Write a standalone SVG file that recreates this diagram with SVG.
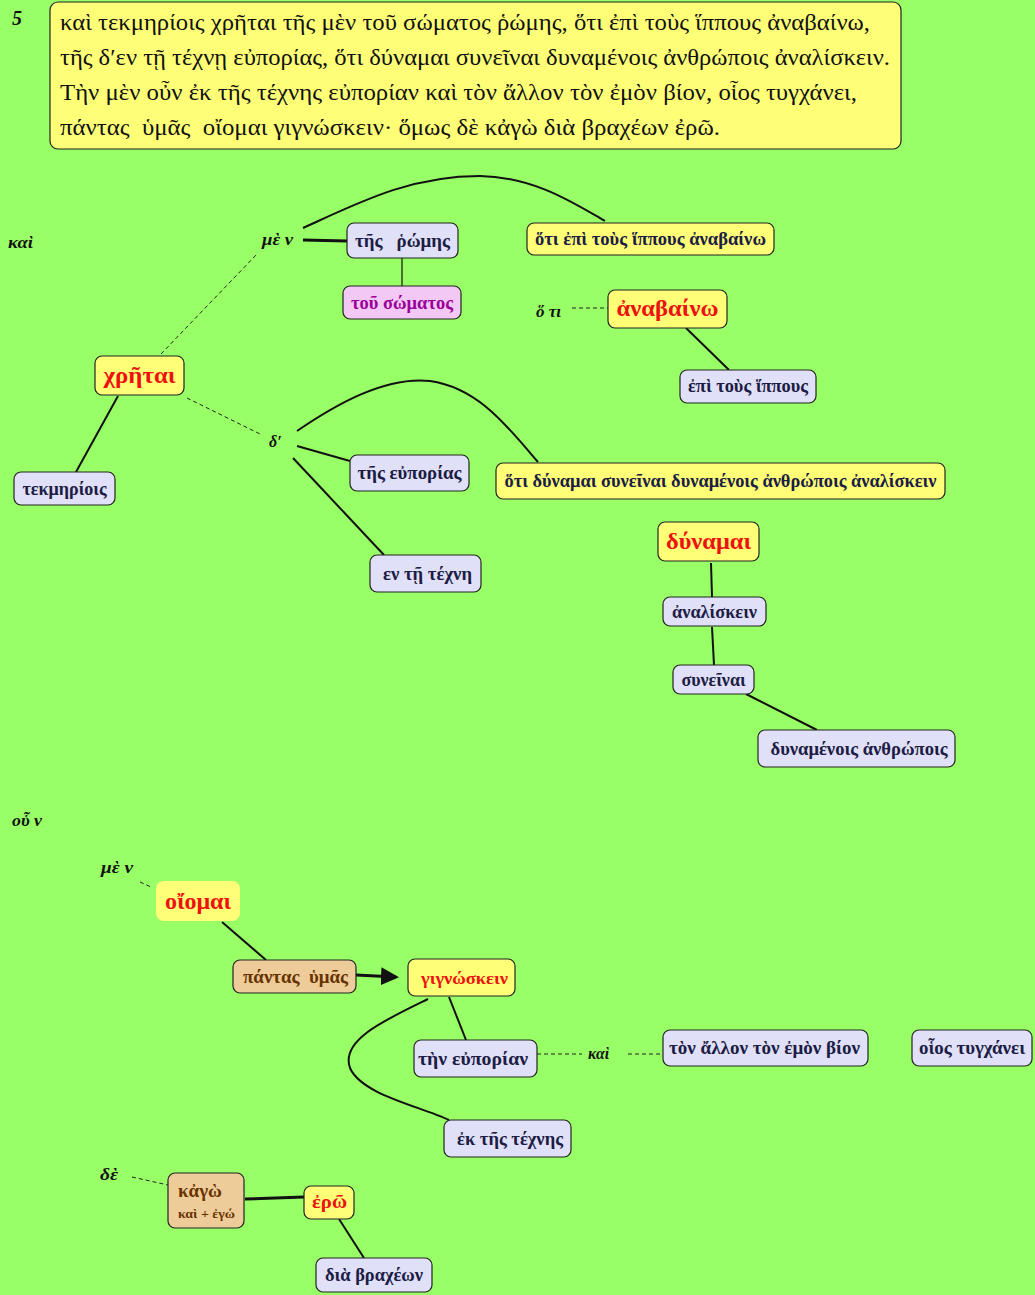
<svg xmlns="http://www.w3.org/2000/svg" width="1035" height="1295" viewBox="0 0 1035 1295">
<defs>
<style>
.bg{fill:#99ff66}
.box{stroke:#222;stroke-width:1.2}
.y{fill:#ffff77}
.l{fill:#e0e0f8}
.p{fill:#f4c8f4}
.t{fill:#eecc99}
.tx{font-family:"Liberation Serif","DejaVu Serif",serif;font-weight:bold;font-size:18px;fill:#1c1c44;text-anchor:middle}
.red{fill:#ee1111;font-size:24px}
.pur{fill:#990099}
.brn{fill:#663300}
.it{font-family:"Liberation Serif","DejaVu Serif",serif;font-weight:bold;font-style:italic;font-size:16px;fill:#111}
.para{font-family:"Liberation Serif","DejaVu Serif",serif;font-size:23px;fill:#111}
.pre{white-space:pre}
.ln{fill:none;stroke:#111;stroke-width:2}
.th{fill:none;stroke:#111;stroke-width:3}
.ds{fill:none;stroke:#222;stroke-width:1;stroke-dasharray:4 3}
</style>
<marker id="ar" markerWidth="6" markerHeight="6" refX="5" refY="3" orient="auto" markerUnits="strokeWidth">
<path d="M0,0 L6,3 L0,6 z" fill="#111"/>
</marker>
</defs>
<rect class="bg" x="0" y="0" width="1035" height="1295"/>

<g id="header">
<text x="12" y="25" style="font-family:'Liberation Serif',serif;font-weight:bold;font-style:italic;font-size:20px;fill:#111">5</text>
<rect x="50" y="2" width="851" height="147" rx="8" fill="#ffff77" stroke="#222" stroke-width="1.2"/>
<text class="para" x="60" y="30" textLength="810" lengthAdjust="spacingAndGlyphs">καὶ τεκμηρίοις χρῆται τῆς μὲν τοῦ σώματος ῥώμης, ὅτι ἐπὶ τοὺς ἵππους ἀναβαίνω,</text>
<text class="para" x="60" y="65" textLength="830" lengthAdjust="spacingAndGlyphs">τῆς δ′εν τῇ τέχνῃ εὐπορίας, ὅτι δύναμαι συνεῖναι δυναμένοις ἀνθρώποις ἀναλίσκειν.</text>
<text class="para" x="60" y="100" textLength="797" lengthAdjust="spacingAndGlyphs">Τὴν μὲν οὖν ἐκ τῆς τέχνης εὐπορίαν καὶ τὸν ἄλλον τὸν ἐμὸν βίον, οἷος τυγχάνει,</text>
<text class="para pre" xml:space="preserve" x="60" y="135" textLength="660" lengthAdjust="spacingAndGlyphs">πάντας  ὑμᾶς  οἴομαι γιγνώσκειν· ὅμως δὲ κἀγὼ διὰ βραχέων ἐρῶ.</text>
</g>

<g id="connectors">
<path class="ln" d="M303,228 C360,202 410,176 480,176 C535,177 575,204 605,221"/>
<path class="th" d="M303,240 L347,241"/>
<path class="ln" style="stroke-width:1.2" d="M402,258 L402,286"/>
<path class="ds" d="M161,354 L257,254"/>
<path class="ds" d="M187,398 L260,434"/>
<path class="ln" d="M118,396 L76,472"/>
<path class="ln" d="M297,431 C335,405 385,376 430,381 C480,388 510,430 538,462"/>
<path class="ln" d="M297,446 L350,461"/>
<path class="ln" d="M293,458 L384,555"/>
<path class="ds" d="M572,308 L608,308"/>
<path class="ln" d="M686,328 L729,370"/>
<path class="ln" d="M711,563 L712,597"/>
<path class="ln" d="M712,627 L714,665"/>
<path class="ln" d="M746,694 L817,730"/>
<path class="ds" d="M140,882 L151,887"/>
<path class="ln" d="M222,922 L266,960"/>
<path class="th" d="M356,975 L396,977" marker-end="url(#ar)"/>
<path class="ln" d="M449,997 L466,1040"/>
<path class="ln" d="M428,999 C385,1020 340,1040 350,1068 C362,1095 420,1106 449,1120"/>
<path class="ds" d="M537,1054 L582,1054"/>
<path class="ds" d="M628,1054 L663,1054"/>
<path class="ds" d="M132,1177 L168,1185"/>
<path class="th" d="M245,1199 L304,1197"/>
<path class="ln" d="M339,1219 L364,1258"/>
</g>

<g id="n-kai1"><text class="it" x="8" y="248" textLength="25" lengthAdjust="spacingAndGlyphs">καὶ</text></g>
<g id="n-men1"><text class="it" x="262" y="245" textLength="31" lengthAdjust="spacingAndGlyphs">μὲ ν</text></g>
<g id="n-rhomes"><rect class="box l" x="347" y="223" width="111" height="35" rx="7"/><text class="tx pre" xml:space="preserve" x="402.5" y="247" textLength="95" lengthAdjust="spacingAndGlyphs">τῆς   ῥώμης</text></g>
<g id="n-somatos"><rect class="box p" x="343" y="286" width="118" height="33" rx="7"/><text class="tx pur" x="402" y="309" textLength="102" lengthAdjust="spacingAndGlyphs">τοῦ σώματος</text></g>
<g id="n-hoti1"><rect class="box y" x="527" y="223" width="247" height="32" rx="7"/><text class="tx" x="650.5" y="245" textLength="231" lengthAdjust="spacingAndGlyphs">ὅτι ἐπὶ τοὺς ἵππους ἀναβαίνω</text></g>
<g id="n-hoti2"><text class="it" x="536" y="317" textLength="25" lengthAdjust="spacingAndGlyphs">ὅ τι</text></g>
<g id="n-anabaino"><rect class="box y" x="608" y="290" width="119" height="38" rx="7"/><text class="tx red" x="667.5" y="316" textLength="102" lengthAdjust="spacingAndGlyphs">ἀναβαίνω</text></g>
<g id="n-hippous"><rect class="box l" x="680" y="370" width="136" height="33" rx="7"/><text class="tx" x="748" y="392" textLength="120" lengthAdjust="spacingAndGlyphs">ἐπὶ τοὺς ἵππους</text></g>
<g id="n-chretai"><rect class="box y" x="95" y="356" width="89" height="39" rx="7"/><text class="tx red" x="139.5" y="383" textLength="72" lengthAdjust="spacingAndGlyphs">χρῆται</text></g>
<g id="n-tekmeriois"><rect class="box l" x="14" y="472" width="101" height="33" rx="7"/><text class="tx" x="64.5" y="495" textLength="84" lengthAdjust="spacingAndGlyphs">τεκμηρίοις</text></g>
<g id="n-de1"><text class="it" x="269" y="447">δ′</text></g>
<g id="n-euporias"><rect class="box l" x="350" y="455" width="119" height="36" rx="7"/><text class="tx" x="409.5" y="479" textLength="104" lengthAdjust="spacingAndGlyphs">τῆς εὐπορίας</text></g>
<g id="n-hoti3"><rect class="box y" x="496" y="463" width="449" height="36" rx="7"/><text class="tx" x="720.5" y="487" textLength="432" lengthAdjust="spacingAndGlyphs">ὅτι δύναμαι συνεῖναι δυναμένοις ἀνθρώποις ἀναλίσκειν</text></g>
<g id="n-techne"><rect class="box l" x="370" y="555" width="111" height="37" rx="7"/><text class="tx" x="427.5" y="580" textLength="89" lengthAdjust="spacingAndGlyphs">εν τῇ τέχνη</text></g>
<g id="n-dynamai"><rect class="box y" x="658" y="522" width="101" height="39" rx="7"/><text class="tx red" x="708.5" y="549" textLength="85" lengthAdjust="spacingAndGlyphs">δύναμαι</text></g>
<g id="n-analiskein"><rect class="box l" x="663" y="597" width="103" height="29" rx="7"/><text class="tx" x="714.5" y="618" textLength="85" lengthAdjust="spacingAndGlyphs">ἀναλίσκειν</text></g>
<g id="n-syneinai"><rect class="box l" x="673" y="665" width="81" height="29" rx="7"/><text class="tx" x="713.5" y="686" textLength="64" lengthAdjust="spacingAndGlyphs">συνεῖναι</text></g>
<g id="n-anthropois"><rect class="box l" x="758" y="730" width="197" height="37" rx="7"/><text class="tx" x="859" y="755" textLength="177" lengthAdjust="spacingAndGlyphs">δυναμένοις ἀνθρώποις</text></g>

<g id="n-oun"><text class="it" x="12" y="826" textLength="30" lengthAdjust="spacingAndGlyphs">οὗ ν</text></g>
<g id="n-men2"><text class="it" x="101" y="873" textLength="32" lengthAdjust="spacingAndGlyphs">μὲ ν</text></g>
<g id="n-oiomai"><rect x="156" y="881" width="84" height="40" rx="8" fill="#ffff77"/><text class="tx red" x="198" y="909" textLength="66" lengthAdjust="spacingAndGlyphs">οἴομαι</text></g>
<g id="n-pantas"><rect class="box t" x="233" y="960" width="123" height="33" rx="7"/><text class="tx brn pre" xml:space="preserve" x="295.5" y="983" textLength="105" lengthAdjust="spacingAndGlyphs">πάντας  ὑμᾶς</text></g>
<g id="n-gignoskein"><rect class="box y" x="408" y="959" width="107" height="37" rx="7"/><text class="tx" style="fill:#ee1111;font-size:17px" x="464.5" y="984" textLength="87" lengthAdjust="spacingAndGlyphs">γιγνώσκειν</text></g>
<g id="n-euporian"><rect class="box l" x="414" y="1040" width="123" height="37" rx="7"/><text class="tx" x="473" y="1065" textLength="110" lengthAdjust="spacingAndGlyphs">τὴν εὐπορίαν</text></g>
<g id="n-kai2"><text class="it" x="588" y="1059" textLength="21" lengthAdjust="spacingAndGlyphs">καὶ</text></g>
<g id="n-bion"><rect class="box l" x="663" y="1030" width="205" height="36" rx="7"/><text class="tx" x="764.5" y="1054" textLength="191" lengthAdjust="spacingAndGlyphs">τὸν ἄλλον τὸν ἐμὸν βίον</text></g>
<g id="n-hoios"><rect class="box l" x="912" y="1030" width="120" height="36" rx="7"/><text class="tx" x="972" y="1054" textLength="106" lengthAdjust="spacingAndGlyphs">οἷος τυγχάνει</text></g>
<g id="n-ektes"><rect class="box l" x="444" y="1120" width="127" height="37" rx="7"/><text class="tx" x="510" y="1145" textLength="106" lengthAdjust="spacingAndGlyphs">ἐκ τῆς τέχνης</text></g>
<g id="n-de2"><text class="it" x="100" y="1180" textLength="18" lengthAdjust="spacingAndGlyphs">δὲ</text></g>
<g id="n-kago"><rect class="box t" x="168" y="1173" width="76" height="55" rx="7"/><text class="tx brn" style="text-anchor:start" x="178" y="1197" textLength="44" lengthAdjust="spacingAndGlyphs">κἀγὼ</text><text class="tx brn" style="text-anchor:start;font-size:13px" x="178" y="1218" textLength="57" lengthAdjust="spacingAndGlyphs">καὶ + ἐγώ</text></g>
<g id="n-ero"><rect class="box y" x="304" y="1186" width="50" height="33" rx="7"/><text class="tx" style="fill:#ee1111" x="329.5" y="1208" textLength="35" lengthAdjust="spacingAndGlyphs">ἐρῶ</text></g>
<g id="n-brachéon"><rect class="box l" x="316" y="1258" width="116" height="34" rx="7"/><text class="tx" x="374" y="1281" textLength="98" lengthAdjust="spacingAndGlyphs">διὰ βραχέων</text></g>
</svg>
